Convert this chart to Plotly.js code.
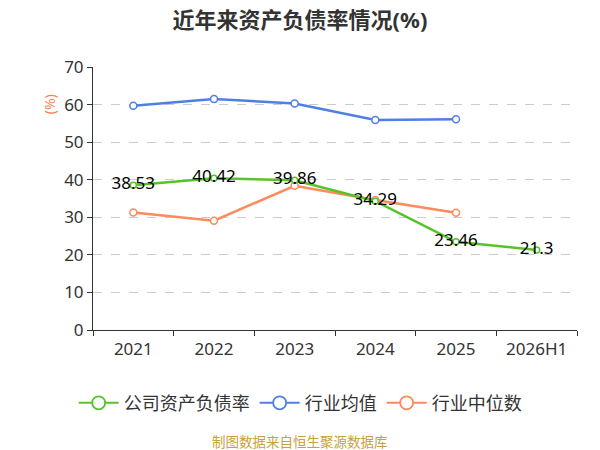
<!DOCTYPE html>
<html>
<head>
<meta charset="utf-8">
<script src="https://cdn.plot.ly/plotly-3.0.1.min.js"></script>
<style>
  html, body { margin: 0; padding: 0; background: #fff; }
  #chart { width: 600px; height: 450px; }
</style>
</head>
<body>
<div id="chart"></div>
<script>
  // data
  const years = ['2021', '2022', '2023', '2024', '2025', '2026H1'];
  const companyRatio = [38.53, 40.42, 39.86, 34.29, 23.46, 21.3];
  const industryMean = [59.7, 61.5, 60.3, 55.9, 56.1, null];
  const industryMedian = [31.3, 29.1, 38.4, 34.6, 31.2, null];

  const font = 'Noto Sans, Noto Sans CJK SC, sans-serif';
  const green = '#58c22a', blue = '#4f7fe3', orange = '#ff8a5b';

  function makeLine(name, y, color, withText) {
    var trace = {
      x: years,
      y: y,
      name: name,
      type: 'scatter',
      mode: withText ? 'lines+markers+text' : 'lines+markers',
      line: { color: color, width: 2.5 },
      marker: { symbol: 'circle', size: withText ? 6 : 7, color: '#fff', line: { color: color, width: 1.5 } },
      showlegend: false,
      connectgaps: false,
      hoverinfo: 'x+y'
    };
    if (withText) {
      trace.text = y.map(function (v) { return String(v); });
      trace.textposition = 'middle center';
      trace.textfont = { family: font, size: 17, color: '#000' };
    }
    return trace;
  }

  // legend entries only (bigger circle, thin line like the reference legend)
  function legendItem(name, color, rank) {
    return {
      x: [null], y: [null],
      name: name,
      type: 'scatter',
      mode: 'lines+markers',
      line: { color: color, width: 2 },
      marker: { symbol: 'circle', size: 13, color: '#fff', line: { color: color, width: 1.8 } },
      legendrank: rank,
      hoverinfo: 'skip'
    };
  }

  const data = [
    makeLine('行业均值', industryMean, blue, false),
    makeLine('行业中位数', industryMedian, orange, false),
    makeLine('公司资产负债率', companyRatio, green, true),
    legendItem('公司资产负债率', green, 1),
    legendItem('行业均值', blue, 2),
    legendItem('行业中位数', orange, 3)
  ];

  const layout = {
    width: 600,
    height: 450,
    margin: { l: 93, r: 23, t: 67, b: 120 },
    paper_bgcolor: '#fff',
    plot_bgcolor: '#fff',
    font: { family: font, color: '#333' },
    title: {
      text: '<b>近年来资产负债率情况(%)</b>',
      font: { family: font, size: 22, color: '#333' },
      x: 0.5, xanchor: 'center', y: 0.955, yanchor: 'middle'
    },
    xaxis: {
      type: 'category',
      range: [-0.5, 5.5],
      showline: true, linecolor: '#333', linewidth: 1,
      ticks: 'outside', ticklen: 5, tickcolor: '#333', tickson: 'boundaries',
      ticklabelstandoff: 4,
      tickfont: { family: font, size: 17, color: '#333' },
      showgrid: false, zeroline: false, fixedrange: true
    },
    yaxis: {
      range: [0, 70], dtick: 10,
      showline: true, linecolor: '#333', linewidth: 1,
      ticks: 'outside', ticklen: 5, tickcolor: '#333',
      tickfont: { family: font, size: 17, color: '#333' },
      showgrid: true, gridcolor: '#cccccc', griddash: 'dash', gridwidth: 1,
      zeroline: false, fixedrange: true
    },
    showlegend: true,
    legend: {
      orientation: 'h',
      x: 0.428, xanchor: 'center',
      y: -0.278, yanchor: 'middle',
      font: { family: font, size: 18, color: '#333' },
      itemwidth: 40
    },
    annotations: [
      {
        text: '(%)', textangle: -90,
        xref: 'paper', yref: 'paper', x: -0.113, y: 0.903,
        showarrow: false,
        font: { family: font, size: 14, color: '#f5834f' }
      },
      {
        text: '制图数据来自恒生聚源数据库',
        xref: 'paper', yref: 'paper', x: 0.428, y: -0.426,
        xanchor: 'center', yanchor: 'middle',
        showarrow: false,
        font: { family: font, size: 13.5, color: '#c9a03c' }
      }
    ]
  };

  Plotly.newPlot('chart', data, layout, { displayModeBar: false, staticPlot: true });
</script>
</body>
</html>
